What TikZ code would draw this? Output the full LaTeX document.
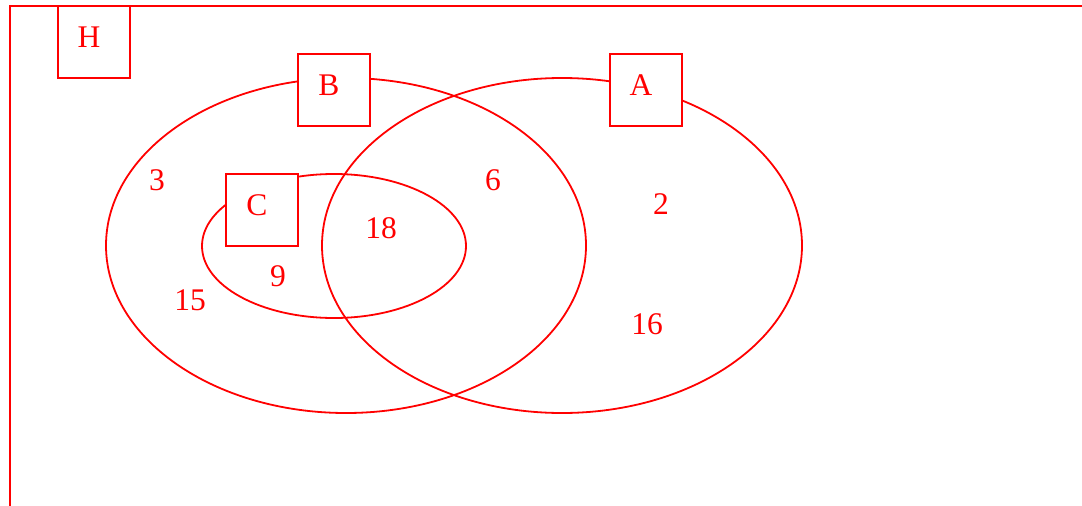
\documentclass[tikz,border=0pt]{standalone}
\usepackage{fontspec}
\setmainfont{Liberation Serif}
\begin{document}
\begin{tikzpicture}[x=1pt,y=-1pt,
  setline/.style={draw=red,line width=1.8pt},
  boxnode/.style={draw=red,line width=2pt,fill=white,minimum width=72pt,minimum height=72pt,inner sep=0pt},
  lbl/.style={text=red,font=\fontsize{31.5}{36}\selectfont,inner sep=0pt}]
\useasboundingbox (0,0) rectangle (1082,506);
% frame
\draw[red,line width=2pt] (10,506) -- (10,6) -- (1090,6);
% sets
\draw[setline] (346,245.5) ellipse [x radius=240,y radius=167.5];
\draw[setline] (562,245.5) ellipse [x radius=240,y radius=167.5];
\draw[setline] (334,246) ellipse [x radius=132,y radius=72];
% boxes
\node[boxnode] (Hbox) at (94,42) {};
\node[boxnode] (Bbox) at (334,90) {};
\node[boxnode] (Abox) at (646,90) {};
\node[boxnode] (Cbox) at (262,210) {};
% box letters
\node[lbl] (H) at (89,37) {H};
\node[lbl] (B) at (329,85) {B};
\node[lbl] (A) at (641,85) {A};
\node[lbl] (C) at (257,205) {C};
% counts
\node[lbl] (n3) at (157,180) {3};
\node[lbl] (n6) at (493,180) {6};
\node[lbl] (n2) at (661,204) {2};
\node[lbl] (n18) at (381,228) {18};
\node[lbl] (n9) at (278,276) {9};
\node[lbl] (n15) at (190,300) {15};
\node[lbl] (n16) at (647,324) {16};
\end{tikzpicture}
\end{document}
